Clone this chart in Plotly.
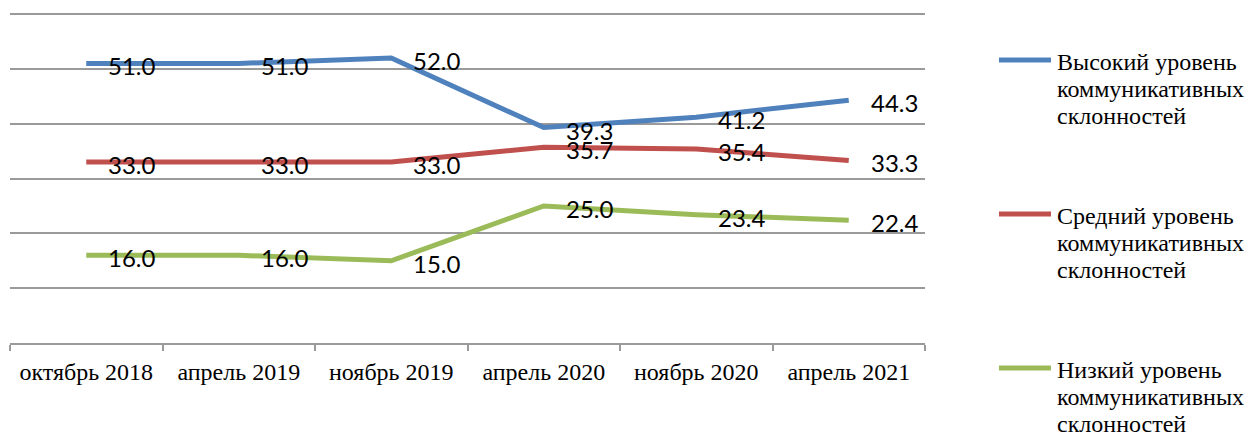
import plotly.graph_objects as go

# Survey waves (categories on the x axis)
periods = ["октябрь 2018", "апрель 2019", "ноябрь 2019",
           "апрель 2020", "ноябрь 2020", "апрель 2021"]

# Share of respondents by level of communicative inclinations, %
high_level = [51.0, 51.0, 52.0, 39.3, 41.2, 44.3]
mid_level = [33.0, 33.0, 33.0, 35.7, 35.4, 33.3]
low_level = [16.0, 16.0, 15.0, 25.0, 23.4, 22.4]

series_names = [
    ["Высокий уровень", "коммуникативных", "склонностей"],
    ["Средний уровень", "коммуникативных", "склонностей"],
    ["Низкий уровень", "коммуникативных", "склонностей"],
]
series_values = [high_level, mid_level, low_level]
series_colors = ["#4F81BD", "#C0504D", "#9BBB59"]

GRID = "#9a9a9a"
W, H = 1250, 432
M_L, M_R, M_T, M_B = 10, 325, 13, 89
PLOT_W = W - M_L - M_R
PLOT_H = H - M_T - M_B


def px_to_paper_x(px):
    return (px - M_L) / PLOT_W


def px_to_paper_y(py):
    return (H - M_B - py) / PLOT_H


fig = go.Figure()
for lines, vals, color in zip(series_names, series_values, series_colors):
    fig.add_trace(go.Scatter(
        x=periods, y=vals, name=" ".join(lines), mode="lines",
        line=dict(color=color, width=5), showlegend=False,
        hoverinfo="x+y",
    ))
    # value labels to the right of every point
    for p, v in zip(periods, vals):
        fig.add_annotation(
            x=p, y=v, xref="x", yref="y", text=f"{v:.1f}",
            showarrow=False, xanchor="left", yanchor="middle",
            xshift=20, yshift=-2.5,
            font=dict(family="Lato", size=24, color="black"),
        )

# Legend on the right: a line swatch and a three-line caption per series
legend_rows = [60, 214, 368]   # swatch centre, px from top
row_step = 27
for lines, color, row in zip(series_names, series_colors, legend_rows):
    fig.add_shape(
        type="line", xref="paper", yref="paper",
        x0=px_to_paper_x(999), x1=px_to_paper_x(1051),
        y0=px_to_paper_y(row), y1=px_to_paper_y(row),
        line=dict(color=color, width=5),
    )
    for i, txt in enumerate(lines):
        fig.add_annotation(
            xref="paper", yref="paper",
            x=px_to_paper_x(1055), y=px_to_paper_y(row + 2 + i * row_step),
            text=txt, showarrow=False, xanchor="left", yanchor="middle",
            font=dict(family="Liberation Serif", size=24, color="black"),
        )

fig.update_layout(
    width=W, height=H,
    margin=dict(l=M_L, r=M_R, t=M_T, b=M_B),
    paper_bgcolor="white", plot_bgcolor="white",
    showlegend=False,
    xaxis=dict(
        type="category", range=[-0.5, 5.5],
        showline=True, linecolor=GRID, linewidth=2,
        ticks="outside", tickson="boundaries", ticklen=6,
        tickcolor=GRID, tickwidth=2, showgrid=False,
        ticklabelstandoff=6,
        tickfont=dict(family="Liberation Serif", size=24, color="black"),
    ),
    yaxis=dict(
        range=[0, 60.2], dtick=10, showgrid=True, gridcolor=GRID,
        gridwidth=2, zeroline=False, showline=False,
        showticklabels=False, ticks="",
    ),
)

fig.write_html("out.html")
